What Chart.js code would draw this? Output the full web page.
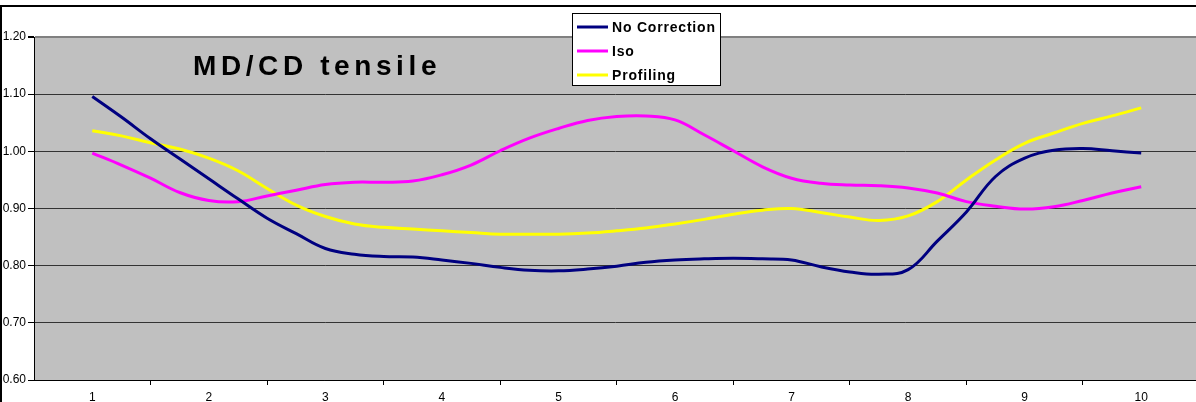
<!DOCTYPE html>
<html>
<head>
<meta charset="utf-8">
<script src="https://cdn.jsdelivr.net/npm/chart.js@4"></script>
<style>
  html, body { margin: 0; padding: 0; background: #fff; }
  #wrap { width: 1196px; height: 402px; position: relative; }
</style>
</head>
<body>
<div id="wrap"><canvas id="chart_tensile"></canvas></div>
<script>
// position along the CD profile (quarter steps between the labelled positions)
const positions = [1, 1.25, 1.5, 1.75, 2, 2.25, 2.5, 2.75, 3, 3.25, 3.5, 3.75, 4, 4.25, 4.5, 4.75,
  5, 5.25, 5.5, 5.75, 6, 6.25, 6.5, 6.75, 7, 7.25, 7.5, 7.75, 8, 8.25, 8.5, 8.75, 9, 9.25, 9.5, 9.75, 10];

const noCorrection = [1.096, 1.060, 1.022, 0.987, 0.952, 0.917, 0.883, 0.856, 0.830, 0.820, 0.816, 0.815,
  0.810, 0.804, 0.797, 0.792, 0.791, 0.794, 0.799, 0.806, 0.810, 0.812, 0.813, 0.812, 0.810, 0.798,
  0.789, 0.785, 0.793, 0.843, 0.894, 0.956, 0.988, 1.002, 1.005, 1.001, 0.997];

const iso = [0.997, 0.976, 0.953, 0.928, 0.914, 0.912, 0.922, 0.932, 0.942, 0.946, 0.946, 0.948,
  0.959, 0.976, 1.001, 1.023, 1.040, 1.054, 1.061, 1.062, 1.055, 1.029, 1.001, 0.973, 0.953, 0.944,
  0.941, 0.940, 0.936, 0.927, 0.912, 0.904, 0.899, 0.903, 0.914, 0.927, 0.938];

const profiling = [1.036, 1.027, 1.015, 1.004, 0.988, 0.966, 0.935, 0.906, 0.886, 0.873, 0.867, 0.864,
  0.861, 0.858, 0.855, 0.855, 0.855, 0.857, 0.861, 0.866, 0.873, 0.881, 0.890, 0.897, 0.900, 0.893,
  0.885, 0.879, 0.887, 0.912, 0.950, 0.985, 1.014, 1.032, 1.049, 1.062, 1.076];

const seriesNames = ["No Correction", "Iso", "Profiling"];
const seriesColors = ["#000080", "#ff00ff", "#ffff00"];

// tick values: labelled positions and the tick marks between them
const xLabels = [1, 2, 3, 4, 5, 6, 7, 8, 9, 10];
const xTickMarks = [1.5, 2.5, 3.5, 4.5, 5.5, 6.5, 7.5, 8.5, 9.5];

const chartTitle = "MD/CD tensile";

function toPoints(vals) {
  return vals.map((v, i) => ({ x: positions[i], y: v }));
}

// paints the frame, grey plot area, title and legend box
const excelLook = {
  id: "excelLook",
  beforeDraw(chart) {
    const c = chart.ctx;
    const a = chart.chartArea;
    c.save();
    c.fillStyle = "#fff";
    c.fillRect(0, 0, chart.width, chart.height);
    c.strokeStyle = "#000";
    c.lineWidth = 2;
    c.strokeRect(1, 6, chart.width + 10, chart.height + 10);
    c.fillStyle = "#c0c0c0";
    c.fillRect(a.left, a.top, a.right - a.left, a.bottom - a.top);
    c.restore();
  },
  afterDraw(chart) {
    const c = chart.ctx;
    c.save();
    // title inside the plot
    c.fillStyle = "#000";
    c.font = "bold 28px 'Liberation Sans', Arial, sans-serif";
    c.letterSpacing = "4.6px";
    c.textBaseline = "alphabetic";
    c.fillText(chartTitle, 193, 75);

    // legend
    const bx = 572, by = 13, bw = 148, bh = 72;
    c.letterSpacing = "0.8px";
    c.fillStyle = "#fff";
    c.fillRect(bx, by, bw, bh);
    c.strokeStyle = "#000";
    c.lineWidth = 1;
    c.strokeRect(bx + 0.5, by + 0.5, bw, bh);
    c.font = "bold 14px 'Liberation Sans', Arial, sans-serif";
    c.textBaseline = "middle";
    chart.data.datasets.forEach((ds, i) => {
      const y = 27 + i * 24;
      c.strokeStyle = ds.borderColor;
      c.lineWidth = 3;
      c.beginPath();
      c.moveTo(577, y);
      c.lineTo(608, y);
      c.stroke();
      c.fillStyle = "#000";
      c.fillText(ds.label, 612, y + 1);
    });
    c.restore();
  },
};

var ctx = document.getElementById("chart_tensile").getContext("2d");

var myChart = new Chart(ctx, {
  type: "line",
  data: {
    datasets: [
      {
        label: seriesNames[0],
        data: toPoints(noCorrection),
        borderColor: seriesColors[0],
        borderWidth: 3,
        pointRadius: 0,
        tension: 0.4,
        fill: false,
      },
      {
        label: seriesNames[1],
        data: toPoints(iso),
        borderColor: seriesColors[1],
        borderWidth: 3,
        pointRadius: 0,
        tension: 0.4,
        fill: false,
      },
      {
        label: seriesNames[2],
        data: toPoints(profiling),
        borderColor: seriesColors[2],
        borderWidth: 3,
        pointRadius: 0,
        tension: 0.4,
        fill: false,
      },
    ],
  },
  options: {
    animation: false,
    responsive: true,
    maintainAspectRatio: false,
    layout: {
      padding: { top: 37, left: 0, right: 0, bottom: 0 },
    },
    plugins: {
      legend: { display: false },
      tooltip: { enabled: false },
    },
    scales: {
      x: {
        type: "linear",
        min: 0.5,
        max: 10.47,
        afterBuildTicks: function (scale) {
          scale.ticks = xLabels.concat(xTickMarks).sort((p, q) => p - q).map((v) => ({ value: v }));
        },
        afterFit: function (scale) {
          scale.height = 22;
        },
        ticks: {
          autoSkip: false,
          maxRotation: 0,
          padding: 5,
          color: "#000",
          font: { family: "'Liberation Sans', Arial, sans-serif", size: 12 },
          callback: function (v) {
            return Number.isInteger(v) ? String(v) : "";
          },
        },
        grid: {
          drawOnChartArea: false,
          tickLength: 5,
          tickColor: function (context) {
            return context.tick && !Number.isInteger(context.tick.value) ? "#000" : "rgba(0,0,0,0)";
          },
        },
        border: { color: "#000", width: 1 },
      },
      y: {
        min: 0.6,
        max: 1.2,
        afterFit: function (scale) {
          scale.width = 34;
        },
        ticks: {
          stepSize: 0.1,
          padding: 2,
          color: "#000",
          font: { family: "'Liberation Sans', Arial, sans-serif", size: 12 },
          callback: function (v) {
            return Number(v).toFixed(2);
          },
        },
        grid: {
          tickLength: 6,
          tickColor: "#000",
          color: function (context) {
            if (context.tick && Math.abs(context.tick.value - 1.2) < 1e-6) return "#808080";
            return "#333";
          },
          lineWidth: function (context) {
            if (context.tick && Math.abs(context.tick.value - 1.2) < 1e-6) return 2;
            return 1;
          },
        },
        border: { color: "#000", width: 1 },
      },
    },
  },
  plugins: [excelLook],
});
</script>
</body>
</html>
